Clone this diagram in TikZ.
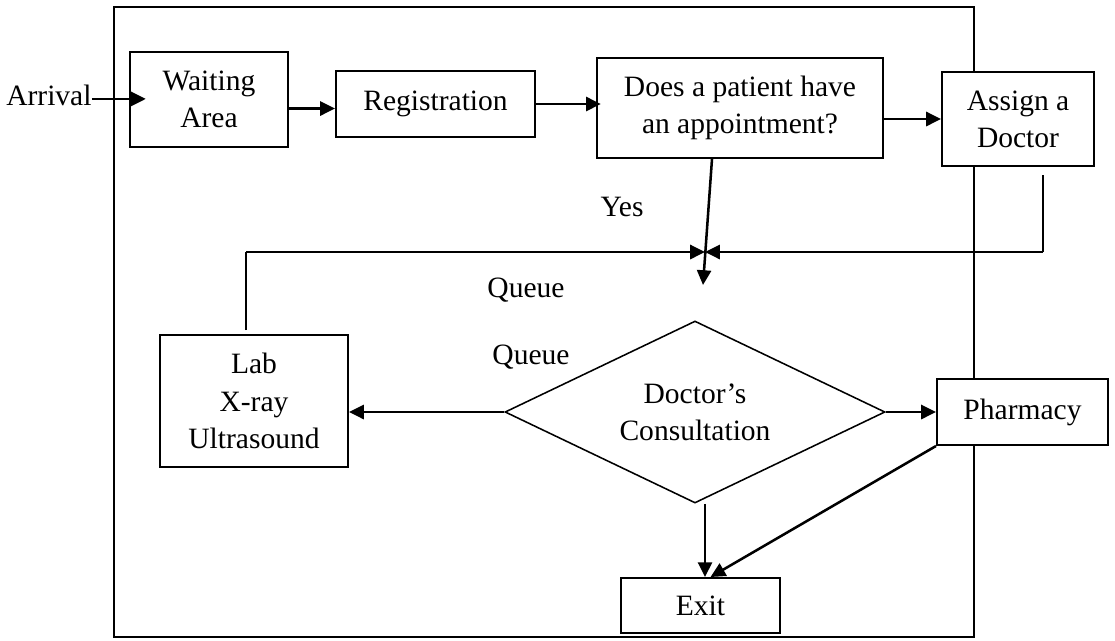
\documentclass[tikz,border=0pt]{standalone}
\usepackage{fontspec}
\setmainfont{Liberation Serif}
\usetikzlibrary{arrows.meta,shapes.geometric}

\begin{document}
\begin{tikzpicture}[
  x=0.025cm,
  y=-0.025cm,
  every node/.style={font=\fontsize{21}{26.5}\selectfont},
  basic box/.style={
    draw=black,
    fill=white,
    line width=1.4pt,
    align=center,
    inner sep=0pt
  },
  flow arrow/.style={
    line width=1.8pt,
    -{Triangle[length=10.5pt,width=10pt]}
  },
  thin link/.style={
    line width=0.8pt
  }
]
\useasboundingbox (0,0) rectangle (1115,640);
\draw[line width=1.5pt] (114,7) rectangle (974,637);

\node[basic box,minimum width=3.95cm,minimum height=2.375cm] (wait) at (209,99.5) {Waiting\\Area};
\node[basic box,minimum width=4.975cm,minimum height=1.65cm] (reg) at (435.5,104) {Registration};
\node[basic box,minimum width=7.15cm,minimum height=2.5cm] (ques) at (740,108) {Does a patient have\\an appointment?};
\node[basic box,minimum width=3.8cm,minimum height=2.35cm] (assign) at (1018,119) {Assign a\\Doctor};
\node[basic box,minimum width=4.7cm,minimum height=3.3cm] (lab) at (254,401) {Lab\\X-ray\\Ultrasound};
\node[basic box,diamond,aspect=2.1,line width=1.1pt,minimum width=9.5cm,minimum height=4.55cm] (consult) at (695,412) {Doctor’s\\Consultation};
\node[basic box,minimum width=4.275cm,minimum height=1.65cm] (phar) at (1022.5,412) {Pharmacy};
\node[basic box,minimum width=3.975cm,minimum height=1.375cm] (exit) at (700.5,605.5) {Exit};

\node[anchor=base west,inner sep=0pt] (arrival) at (6,105) {Arrival};
\node (yes) at (622,207) {Yes};
\node (queue top) at (526,290) {Queue};
\node (queue mid) at (531,357) {Queue};

\coordinate (assign drop) at (1043,175);
\coordinate (assign turn) at (1043,252);
\coordinate (lab rise) at (246,330);
\coordinate (lab turn) at (246,252);
\coordinate (merge) at (705,252);
\coordinate (queue in) at (703,285);
\path ([yshift=-0.1cm]arrival.east) coordinate (arrival out);
\path ([yshift=-0.225cm]wait.east) coordinate (wait out);
\path ([xshift=0.25cm]consult.south) coordinate (consult out);

\draw[flow arrow,shorten >=-0.42cm] (arrival out) -- (arrival out -| wait.west);
\draw[flow arrow] (wait out) -- (wait out -| reg.west);
\draw[flow arrow,shorten >=-0.12cm] (reg.east) -- (reg.east -| ques.west);
\draw[flow arrow] (assign.west -| ques.east) -- (assign.west);
\draw[flow arrow] ([xshift=-0.7cm]ques.south) -- (queue in);
\draw[thin link] (assign drop) -- (assign turn);
\draw[flow arrow] (assign turn) -- (merge);
\draw[thin link] (lab rise) -- (lab turn);
\draw[flow arrow] (lab turn) -- (merge);
\draw[flow arrow] (consult.west) -- (consult.west -| lab.east);
\draw[flow arrow] (consult.east) -- (phar.west);
\draw[flow arrow] (consult out) -- (consult out |- exit.north);
\draw[flow arrow] (phar.south west) -- ([xshift=0.25cm]exit.north);
\end{tikzpicture}
\end{document}
